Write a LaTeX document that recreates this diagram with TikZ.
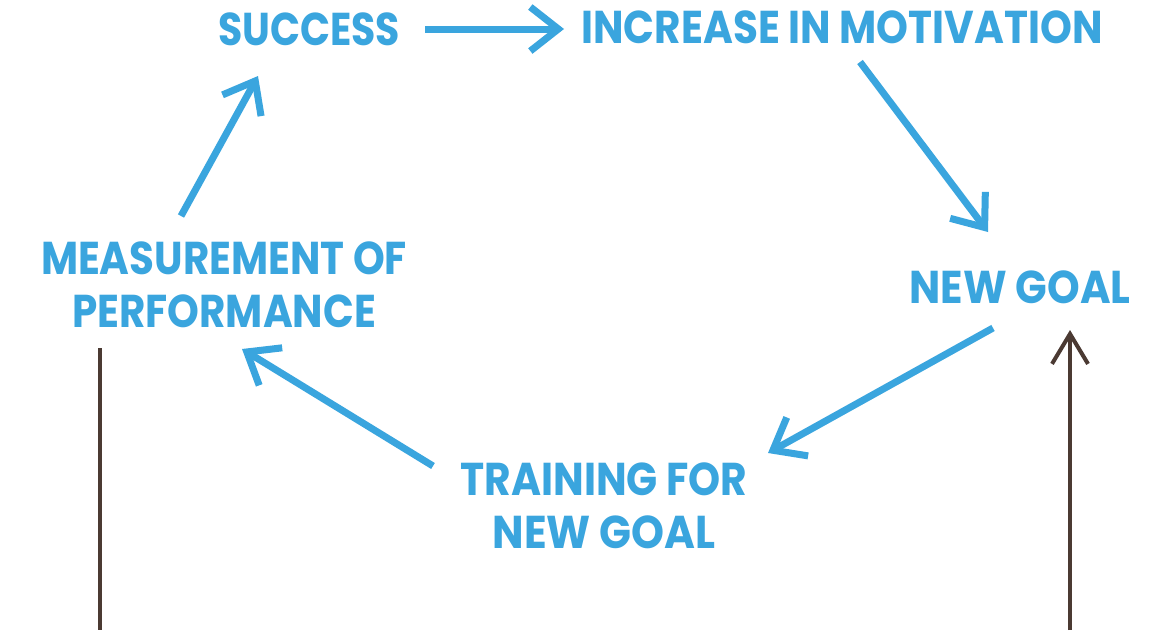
\documentclass[tikz,border=0pt]{standalone}
\usepackage{fontspec}
\setmainfont{Poppins}
\usetikzlibrary{arrows.meta}
\definecolor{cycblue}{HTML}{3AA5DE}
\definecolor{cycbrown}{HTML}{4B3A33}
\newsavebox\fitbox
\newlength\fitlen
\newcommand\fitx[2]{\sbox\fitbox{#2}\setlength\fitlen{\wd\fitbox}\pgfmathsetmacro\fitratio{#1/\fitlen}\scalebox{\fitratio}[1]{\usebox\fitbox}}
\begin{document}
\begin{tikzpicture}[x=1pt,y=-1pt,
  lbl/.style={text=cycblue, font=\fontsize{46}{53}\selectfont\bfseries, align=center, inner sep=0pt, anchor=base},
  barrow/.style={draw=cycblue, line width=7pt, -{Straight Barb[sharp,length=28pt,width=44pt,line width=7pt]}},
  brline/.style={draw=cycbrown, line width=4pt},
  brarrow/.style={brline, -{Straight Barb[sharp,length=30pt,width=36pt,line width=4pt]}}]
\useasboundingbox (0,0) rectangle (1172,630);
\fill[white] (0,0) rectangle (1172,630);
\node[lbl] (success) at (309,45) {\fitx{182}{SUCCESS}};
\node[lbl] (incr) at (842,43) {\fitx{521}{INCREASE IN MOTIVATION}};
\node[lbl] (goal) at (1020,303) {\fitx{221}{NEW GOAL}};
\node[lbl] (meas) at (224,327) {\fitx{366}{MEASUREMENT OF}\\\fitx{304}{PERFORMANCE}};
\node[lbl] (train) at (604,548) {\fitx{287}{TRAINING FOR}\\\fitx{223}{NEW GOAL}};
% connector end points
\coordinate (a1s) at (425,29);
\coordinate (a1e) at (564,29);
\coordinate (a2s) at (181,216);
\coordinate (a2e) at (258,76);
\coordinate (a3s) at (860,62);
\coordinate (a3e) at (988,232);
\coordinate (a4s) at (993,328);
\coordinate (a4e) at (768,453);
\coordinate (a5s) at (433,466);
\coordinate (a5e) at (242,349);
\draw[barrow] (a1s) -- (a1e);
\draw[barrow] (a2s) -- (a2e);
\draw[barrow] (a3s) -- (a3e);
\draw[barrow] (a4s) -- (a4e);
\draw[barrow] (a5s) -- (a5e);
% brown lines
\coordinate (lt) at (100,348);
\coordinate (lb) at (100,630);
\coordinate (rb) at (1070,630);
\coordinate (rt) at (1070,330);
\draw[brline] (lt) -- (lb);
\draw[brarrow] (rb) -- (rt);
\end{tikzpicture}
\end{document}
